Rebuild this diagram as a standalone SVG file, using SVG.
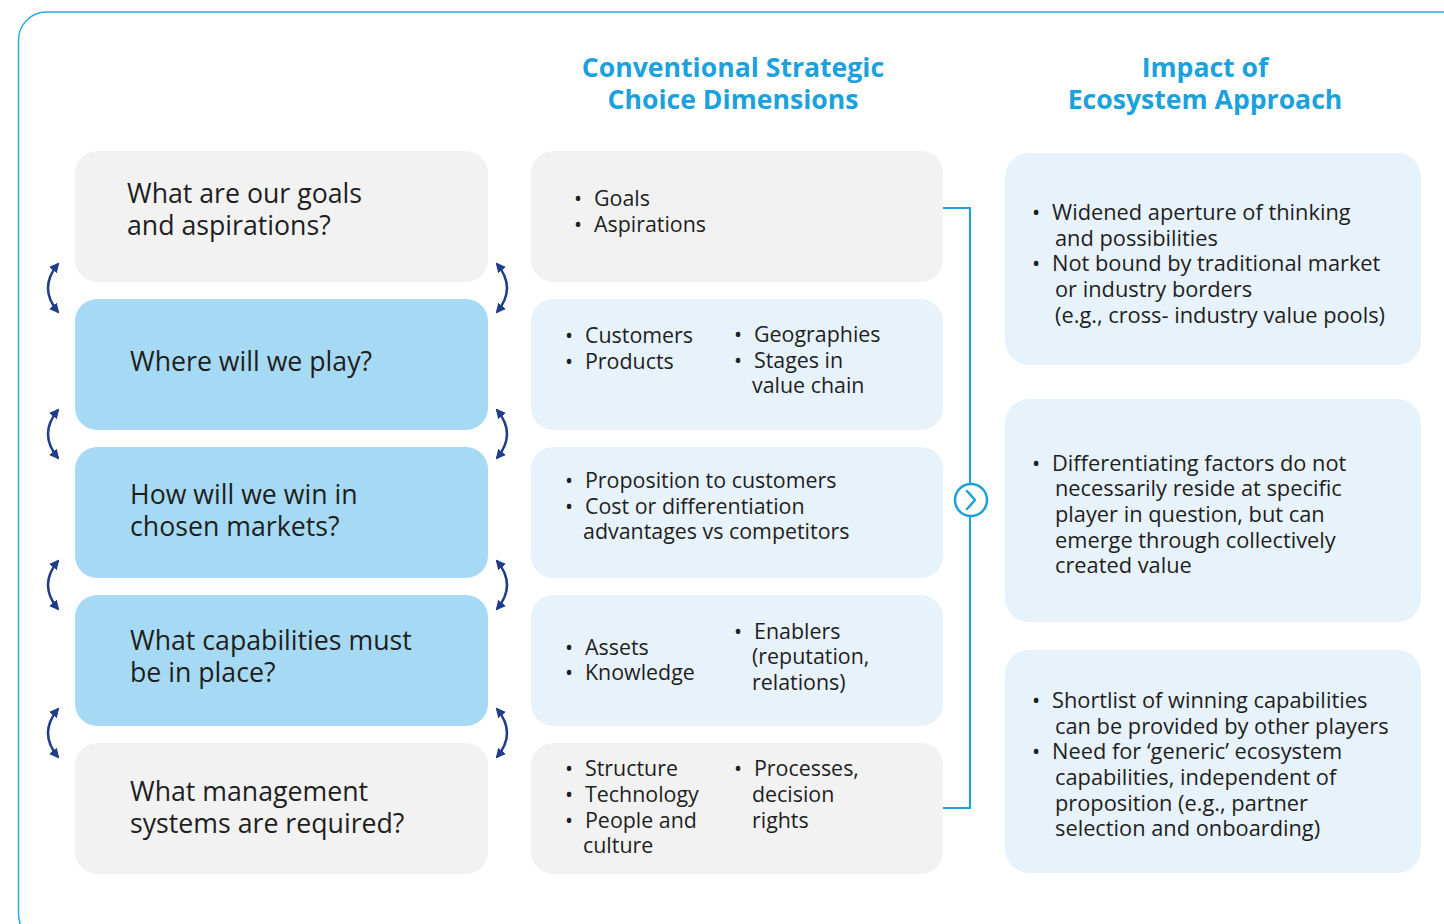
<svg xmlns="http://www.w3.org/2000/svg" width="1444" height="924" viewBox="0 0 1444 924">
  <defs>
    <style>
      .frame { fill: #ffffff; stroke: #29abe2; stroke-width: 1.5; }
      .gray { fill: #f2f2f2; }
      .blue { fill: #a6daf4; }
      .pale { fill: #e7f2fb; }
      .q { font-family: "Open Sans", "Liberation Sans", sans-serif; font-size: 26.7px; fill: #1e1e1e; }
      .t { font-family: "Open Sans", "Liberation Sans", sans-serif; font-size: 21.4px; fill: #1e1e1e; }
      .r { font-family: "Open Sans", "Liberation Sans", sans-serif; font-size: 21.8px; fill: #1e1e1e; }
      .h { font-family: "Open Sans", "Liberation Sans", sans-serif; font-size: 26.6px; font-weight: bold; fill: #1ba1dc; text-anchor: middle; }
      .swap { fill: none; stroke: #1f3d8a; stroke-width: 2.5; marker-start: url(#head); marker-end: url(#head); }
      .link { fill: none; stroke: #1ba1dc; stroke-width: 2; }
    </style>
    <marker id="head" viewBox="0 0 10 10" refX="8" refY="5" markerWidth="4" markerHeight="4" orient="auto-start-reverse">
      <path d="M0,0 L10,5 L0,10 z" fill="#1f3d8a"/>
    </marker>
  </defs>

  <!-- outer frame -->
  <rect class="frame" x="18.5" y="12" width="1460" height="930" rx="28"/>

  <!-- column headings -->
  <g id="heading-conventional">
    <text class="h" x="733" y="77">Conventional Strategic</text>
    <text class="h" x="733" y="109">Choice Dimensions</text>
  </g>
  <g id="heading-ecosystem">
    <text class="h" x="1205" y="77">Impact of</text>
    <text class="h" x="1205" y="109">Ecosystem Approach</text>
  </g>

  <!-- left column: strategic questions -->
  <g id="q-goals">
    <rect class="gray" x="75" y="151" width="413" height="131" rx="22"/>
    <text class="q" x="127" y="203">What are our goals</text>
    <text class="q" x="127" y="235">and aspirations?</text>
  </g>
  <g id="q-play">
    <rect class="blue" x="75" y="299" width="413" height="131" rx="22"/>
    <text class="q" x="130" y="371">Where will we play?</text>
  </g>
  <g id="q-win">
    <rect class="blue" x="75" y="447" width="413" height="131" rx="22"/>
    <text class="q" x="130" y="504">How will we win in</text>
    <text class="q" x="130" y="536">chosen markets?</text>
  </g>
  <g id="q-capabilities">
    <rect class="blue" x="75" y="595" width="413" height="131" rx="22"/>
    <text class="q" x="130" y="650">What capabilities must</text>
    <text class="q" x="130" y="682">be in place?</text>
  </g>
  <g id="q-management">
    <rect class="gray" x="75" y="743" width="413" height="131" rx="22"/>
    <text class="q" x="130" y="801">What management</text>
    <text class="q" x="130" y="833">systems are required?</text>
  </g>

  <!-- middle column: conventional dimensions -->
  <g id="d-goals">
    <rect class="gray" x="531" y="151" width="412" height="131" rx="22"/>
    <text class="t" x="574" y="206">•</text><text class="t" x="594" y="206">Goals</text>
    <text class="t" x="574" y="232">•</text><text class="t" x="594" y="232">Aspirations</text>
  </g>
  <g id="d-play">
    <rect class="pale" x="531" y="299" width="412" height="131" rx="22"/>
    <text class="t" x="565" y="343">•</text><text class="t" x="585" y="343">Customers</text>
    <text class="t" x="565" y="369">•</text><text class="t" x="585" y="369">Products</text>
    <text class="t" x="734" y="342">•</text><text class="t" x="754" y="342">Geographies</text>
    <text class="t" x="734" y="368">•</text><text class="t" x="754" y="368">Stages in</text>
    <text class="t" x="752" y="393">value chain</text>
  </g>
  <g id="d-win">
    <rect class="pale" x="531" y="447" width="412" height="131" rx="22"/>
    <text class="t" x="565" y="488">•</text><text class="t" x="585" y="488">Proposition to customers</text>
    <text class="t" x="565" y="514">•</text><text class="t" x="585" y="514">Cost or differentiation</text>
    <text class="t" x="583" y="539">advantages vs competitors</text>
  </g>
  <g id="d-capabilities">
    <rect class="pale" x="531" y="595" width="412" height="131" rx="22"/>
    <text class="t" x="565" y="655">•</text><text class="t" x="585" y="655">Assets</text>
    <text class="t" x="565" y="680">•</text><text class="t" x="585" y="680">Knowledge</text>
    <text class="t" x="734" y="639">•</text><text class="t" x="754" y="639">Enablers</text>
    <text class="t" x="752" y="664">(reputation,</text>
    <text class="t" x="752" y="690">relations)</text>
  </g>
  <g id="d-management">
    <rect class="gray" x="531" y="743" width="412" height="131" rx="22"/>
    <text class="t" x="565" y="776">•</text><text class="t" x="585" y="776">Structure</text>
    <text class="t" x="565" y="802">•</text><text class="t" x="585" y="802">Technology</text>
    <text class="t" x="565" y="828">•</text><text class="t" x="585" y="828">People and</text>
    <text class="t" x="583" y="853">culture</text>
    <text class="t" x="734" y="776">•</text><text class="t" x="754" y="776">Processes,</text>
    <text class="t" x="752" y="802">decision</text>
    <text class="t" x="752" y="828">rights</text>
  </g>

  <!-- right column: ecosystem impact -->
  <g id="e-aperture">
    <rect class="pale" x="1005" y="153" width="416" height="212" rx="24"/>
    <text class="r" x="1032" y="220">•</text><text class="r" x="1052" y="220">Widened aperture of thinking</text>
    <text class="r" x="1055" y="246">and possibilities</text>
    <text class="r" x="1032" y="271">•</text><text class="r" x="1052" y="271">Not bound by traditional market</text>
    <text class="r" x="1055" y="297">or industry borders</text>
    <text class="r" x="1055" y="323">(e.g., cross- industry value pools)</text>
  </g>
  <g id="e-differentiation">
    <rect class="pale" x="1005" y="399" width="416" height="223" rx="24"/>
    <text class="r" x="1032" y="471">•</text><text class="r" x="1052" y="471">Differentiating factors do not</text>
    <text class="r" x="1055" y="496">necessarily reside at specific</text>
    <text class="r" x="1055" y="522">player in question, but can</text>
    <text class="r" x="1055" y="548">emerge through collectively</text>
    <text class="r" x="1055" y="573">created value</text>
  </g>
  <g id="e-capabilities">
    <rect class="pale" x="1005" y="650" width="416" height="223" rx="24"/>
    <text class="r" x="1032" y="708">•</text><text class="r" x="1052" y="708">Shortlist of winning capabilities</text>
    <text class="r" x="1055" y="734">can be provided by other players</text>
    <text class="r" x="1032" y="759">•</text><text class="r" x="1052" y="759">Need for ‘generic’ ecosystem</text>
    <text class="r" x="1055" y="785">capabilities, independent of</text>
    <text class="r" x="1055" y="811">proposition (e.g., partner</text>
    <text class="r" x="1055" y="836">selection and onboarding)</text>
  </g>

  <!-- connectors -->
  <g id="connectors">
    <!-- interplay arrows between the questions -->
    <path class="swap" d="M58,264 Q38,288 58,312"/>
    <path class="swap" d="M58,410 Q38,434 58,458"/>
    <path class="swap" d="M58,561 Q38,585 58,609"/>
    <path class="swap" d="M58,709 Q38,733 58,757"/>
    <path class="swap" d="M497,264 Q517,288 497,312"/>
    <path class="swap" d="M497,410 Q517,434 497,458"/>
    <path class="swap" d="M497,561 Q517,585 497,609"/>
    <path class="swap" d="M497,709 Q517,733 497,757"/>
    <!-- bracket joining the dimensions to the ecosystem view -->
    <path class="link" d="M943,208 H970 V808 H943"/>
    <circle cx="971" cy="500" r="16" fill="#ffffff" stroke="#1ba1dc" stroke-width="2.5"/>
    <path d="M967,491 L975,500 L967,509" fill="none" stroke="#1ba1dc" stroke-width="2.5" stroke-linecap="round" stroke-linejoin="round"/>
  </g>
</svg>
